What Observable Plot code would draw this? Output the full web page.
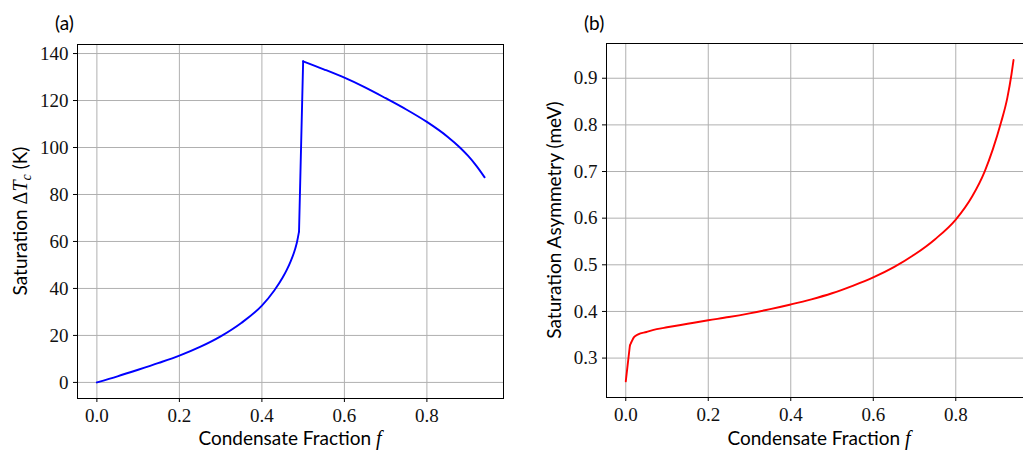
<!DOCTYPE html>
<html>
<head>
<meta charset="utf-8">
<script src="https://cdn.jsdelivr.net/npm/d3@7"></script>
<script src="https://cdn.jsdelivr.net/npm/@observablehq/plot@0.6"></script>
<style>
  html, body { margin: 0; padding: 0; background: #fff; overflow: hidden; }
  #wrap { position: relative; width: 1023px; height: 451px; overflow: hidden; }
  #wrap > div { position: absolute; top: 0; }
  svg { overflow: visible; }
</style>
</head>
<body>
<div id="wrap"><div id="pa" style="left:0px"></div><div id="pb" style="left:520px"></div></div>
<script>
// ---- Data ----
const fracA = [0, 0.05, 0.1, 0.15, 0.2, 0.25, 0.3, 0.35, 0.4, 0.43, 0.45, 0.46, 0.47, 0.48, 0.485, 0.49,
               0.5, 0.55, 0.6, 0.65, 0.7, 0.75, 0.8, 0.85, 0.88, 0.9, 0.92, 0.94];
const dTc   = [0, 2.6, 5.4, 8.3, 11.4, 15.1, 19.6, 25.3, 32.7, 39.15, 44.55, 47.8, 51.65, 56.45, 59.7, 64.2,
               136.7, 133.3, 129.7, 125.6, 121.0, 116.2, 110.9, 104.6, 100.0, 96.4, 92.2, 87.3];
const jumpAt = 0.5; // first point of the upper branch

const fracB = [0, 0.01, 0.02, 0.03, 0.05, 0.075, 0.1, 0.15, 0.2, 0.25, 0.3, 0.35, 0.4, 0.45, 0.5, 0.55,
               0.6, 0.65, 0.7, 0.75, 0.8, 0.84, 0.87, 0.89, 0.91, 0.925, 0.935, 0.94];
const asym  = [0.25, 0.327, 0.345, 0.351, 0.356, 0.362, 0.366, 0.3735, 0.381, 0.388, 0.396, 0.405, 0.415,
               0.426, 0.439, 0.455, 0.473, 0.495, 0.522, 0.555, 0.597, 0.647, 0.700, 0.748, 0.806, 0.858,
               0.908, 0.939];

const xTicks  = [0, 0.2, 0.4, 0.6, 0.8];
const yTicksA = [0, 20, 40, 60, 80, 100, 120, 140];
const yTicksB = [0.3, 0.4, 0.5, 0.6, 0.7, 0.8, 0.9];

const serif = "'Liberation Serif', 'DejaVu Serif', serif";
const sans  = "Lato, 'Open Sans', 'DejaVu Sans', sans-serif";

function panel({lines, xDomain, yDomain, yTicks, yFmt, color, width, mL, mR, mT, mB}) {
  return Plot.plot({
    width, height: 451,
    marginLeft: mL, marginRight: mR, marginTop: mT, marginBottom: mB,
    style: {fontFamily: serif, fontSize: "19px", color: "#111", background: "transparent"},
    x: {domain: xDomain},
    y: {domain: yDomain},
    marks: [
      Plot.gridX(xTicks, {stroke: "#b0b0b0", strokeOpacity: 1, strokeWidth: 1}),
      Plot.gridY(yTicks, {stroke: "#b0b0b0", strokeOpacity: 1, strokeWidth: 1}),
      ...lines.map(([d, curve]) => Plot.line(d, {x: "f", y: "v", stroke: color, strokeWidth: 1.9, curve})),
      Plot.frame({stroke: "#000", strokeWidth: 1}),
      Plot.axisX(xTicks, {tickFormat: d3.format(".1f"), tickSize: 4, tickPadding: 6, label: null,
                          fontSize: 19, fontFamily: serif, stroke: "#000"}),
      Plot.axisY(yTicks, {tickFormat: yFmt, tickSize: 4, tickPadding: 5, label: null,
                          fontSize: 19, fontFamily: serif, stroke: "#000"})
    ]
  });
}

const rowsA = fracA.map((f, i) => ({f, v: dTc[i]}));
const lowA = rowsA.filter(d => d.f < jumpAt);
const highA = rowsA.filter(d => d.f >= jumpAt);
const jumpA = [lowA[lowA.length - 1], highA[0]];
const rowsB = fracB.map((f, i) => ({f, v: asym[i]}));

const plotA = panel({
  lines: [[lowA, "monotone-x"], [jumpA, "linear"], [highA, "monotone-x"]],
  xDomain: [-0.047, 0.9857], yDomain: [-6.85, 143.85],
  yTicks: yTicksA, yFmt: d3.format("d"), color: "#0000ff",
  width: 520, mL: 77, mR: 17, mT: 44, mB: 53
});
const plotB = panel({
  lines: [[rowsB.slice(0, 2), "linear"], [rowsB.slice(1), "monotone-x"]],
  xDomain: [-0.0467, 0.9642], yDomain: [0.2155, 0.9745],
  yTicks: yTicksB, yFmt: d3.format(".1f"), color: "#ff0000",
  width: 503, mL: 86, mR: 0, mT: 43, mB: 54
});
document.getElementById("pa").appendChild(plotA);
document.getElementById("pb").appendChild(plotB);

function addLabels(svg, {panelText, px, xCenter, yLabX, yCenter, yLabel}) {
  const s = d3.select(svg);
  s.append("text").attr("x", px).attr("y", 30).attr("text-anchor", "start")
    .style("font-family", sans).style("font-size", "19px").attr("fill", "#000")
    .text(panelText);
  const xl = s.append("text").attr("x", xCenter).attr("y", 445).attr("text-anchor", "middle")
    .style("font-family", sans).style("font-size", "19px").attr("fill", "#000");
  xl.append("tspan").text("Condensate Fraction ");
  xl.append("tspan").style("font-family", serif).style("font-style", "italic").style("font-size", "20px").text("f");
  const yl = s.append("text").attr("transform", `translate(${yLabX},${yCenter}) rotate(-90)`)
    .attr("text-anchor", "middle")
    .style("font-family", sans).style("font-size", "19px").attr("fill", "#000");
  yLabel(yl);
}

addLabels(plotA, {
  panelText: "(a)", px: 55, xCenter: 290, yLabX: 27, yCenter: 221,
  yLabel: (t) => {
    t.append("tspan").text("Saturation ");
    t.append("tspan").style("font-family", serif).style("font-size", "20px").text("Δ");
    t.append("tspan").style("font-family", serif).style("font-style", "italic").style("font-size", "20px").text("T");
    t.append("tspan").style("font-family", serif).style("font-style", "italic").style("font-size", "14px")
      .attr("dy", 4).text("c");
    t.append("tspan").attr("dy", -4).text(" (K)");
  }
});
addLabels(plotB, {
  panelText: "(b)", px: 64, xCenter: 299, yLabX: 41, yCenter: 220,
  yLabel: (t) => { t.text("Saturation Asymmetry (meV)"); }
});
</script>
</body>
</html>
